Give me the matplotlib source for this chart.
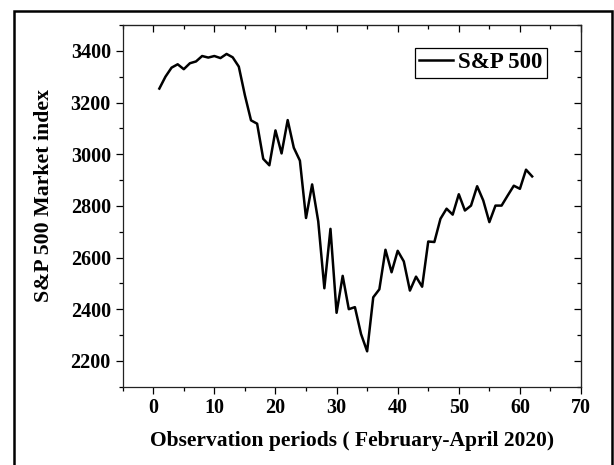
import matplotlib
matplotlib.use("Agg")
import matplotlib.pyplot as plt
from matplotlib.patches import Rectangle
from matplotlib.ticker import MultipleLocator

# S&P 500 closing values, observation periods 1..62
periods = list(range(1, 63))
sp500 = [3254, 3300, 3335, 3348, 3329, 3352, 3359, 3380, 3374, 3380,
         3372, 3388, 3375, 3339, 3228, 3131, 3118, 2982, 2957, 3092,
         3003, 3132, 3025, 2975, 2753, 2883, 2740, 2481, 2711, 2386,
         2529, 2400, 2408, 2304, 2237, 2446, 2477, 2630, 2543, 2626,
         2585, 2472, 2526, 2487, 2662, 2660, 2750, 2789, 2766, 2845,
         2782, 2801, 2876, 2821, 2737, 2801, 2801, 2840, 2878, 2866,
         2940, 2914]

plt.rcParams['font.family'] = ['Liberation Serif', 'DejaVu Serif']
plt.rcParams['font.weight'] = 'bold'

fig = plt.figure(figsize=(6.14, 4.65), dpi=100)
ax = fig.add_axes([0.1998, 0.1684, 0.9463 - 0.1998, 0.9462 - 0.1684])

ax.plot(periods, sp500, color='black', lw=1.8, label='S&P 500')

ax.set_xlim(-5, 70)
ax.set_ylim(2100, 3500)
ax.xaxis.set_major_locator(MultipleLocator(10))
ax.xaxis.set_minor_locator(MultipleLocator(5))
ax.yaxis.set_major_locator(MultipleLocator(200))
ax.yaxis.set_minor_locator(MultipleLocator(100))

ax.tick_params(which='both', direction='out', width=0.9, labelsize=14.5)
ax.tick_params(which='major', length=5)
ax.tick_params(which='minor', length=3)
for sp in ax.spines.values():
    sp.set_linewidth(0.9)
    sp.set_color('#222222')

# mirrored ticks pointing inward on top and right
top = ax.secondary_xaxis('top')
top.xaxis.set_major_locator(MultipleLocator(10))
top.xaxis.set_minor_locator(MultipleLocator(5))
top.tick_params(which='both', direction='in', labeltop=False, width=0.9)
top.tick_params(which='major', length=5)
top.tick_params(which='minor', length=3)
right = ax.secondary_yaxis('right')
right.yaxis.set_major_locator(MultipleLocator(200))
right.yaxis.set_minor_locator(MultipleLocator(100))
right.tick_params(which='both', direction='in', labelright=False, width=0.9)
right.tick_params(which='major', length=5)
right.tick_params(which='minor', length=3)

ax.set_xlabel('Observation periods ( February-April 2020)', fontsize=15.5,
              fontweight='bold', labelpad=9)
ax.set_ylabel('S&P 500 Market index', fontsize=15.7, fontweight='bold')
ax.yaxis.set_label_coords(-0.15, 0.53)

leg = ax.legend(loc='upper right', bbox_to_anchor=(0.925, 0.937),
                borderaxespad=0, fancybox=False, edgecolor='black',
                fontsize=16.5, handlelength=1.45, handletextpad=0.22,
                borderpad=0.2, framealpha=1)
leg.get_frame().set_linewidth(0.9)

# outer frame around the whole figure
fig.patches.append(Rectangle((14 / 614, -0.02), (612 - 14) / 614, 1 - 11 / 465 + 0.02,
                             transform=fig.transFigure, fill=False,
                             edgecolor='black', lw=1.8))

fig.savefig('out.png', dpi=100)
